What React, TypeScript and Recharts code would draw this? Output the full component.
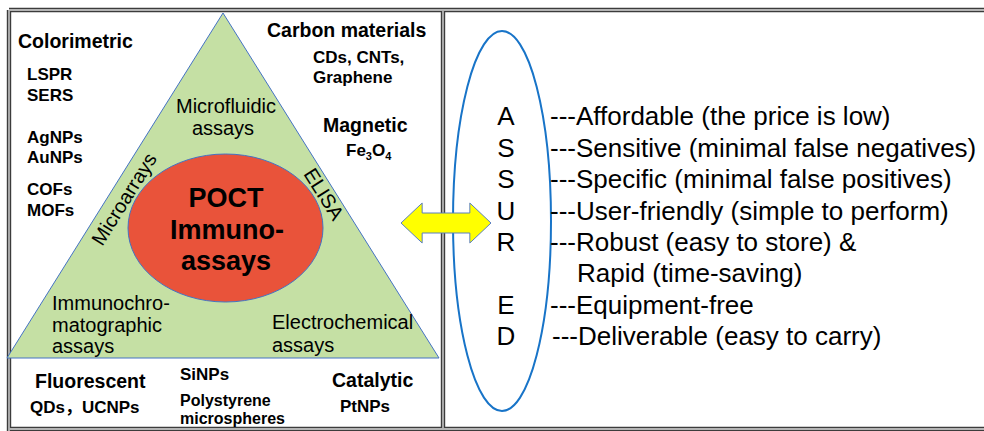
import React from 'react';
import { ComposedChart, XAxis, YAxis, Scatter, ReferenceArea, ReferenceLine } from 'recharts';

const W = 984;
const H = 431;
const FONT = "Arial, 'Liberation Sans', 'Noto Sans CJK SC', sans-serif";

// ---- diagram geometry, in the chart's own data coordinates ----
const frameBands = [
  { x1: 9, y1: 10, x2: 984, y2: 10 },
  { x1: 9, y1: 10, x2: 9, y2: 431 },
  { x1: 9, y1: 429, x2: 984, y2: 429 },
  { x1: 443, y1: 10, x2: 443, y2: 429 },
];
const triangleBox = { x1: 7, x2: 439, y1: 13, y2: 358 };
const coreEllipse = { x1: 128, x2: 323, y1: 154, y2: 302 };
const assuredEllipse = { x1: 453, x2: 551, y1: 31, y2: 411 };
const arrowBox = { x1: 401, x2: 491, y1: 203, y2: 243 };

// ---- labels ----
const detectionHeadings = [
  { label: 'Colorimetric', x: 18, y: 48 },
  { label: 'Carbon materials', x: 267, y: 37 },
  { label: 'Magnetic', x: 323, y: 132 },
  { label: 'Fluorescent', x: 35, y: 388 },
  { label: 'Catalytic', x: 332, y: 387 },
];
const materialLabels = [
  { label: 'LSPR', x: 27, y: 80 },
  { label: 'SERS', x: 27, y: 101 },
  { label: 'AgNPs', x: 27, y: 143 },
  { label: 'AuNPs', x: 27, y: 163 },
  { label: 'COFs', x: 27, y: 195 },
  { label: 'MOFs', x: 27, y: 216 },
  { label: 'CDs, CNTs,', x: 313, y: 63 },
  { label: 'Graphene', x: 313, y: 83 },
  { label: 'QDs，UCNPs', x: 30, y: 413 },
  { label: 'SiNPs', x: 180, y: 380 },
  { label: 'PtNPs', x: 340, y: 412 },
];
const beadLabels = [
  { label: 'Polystyrene', x: 180, y: 405.5 },
  { label: 'microspheres', x: 180, y: 424 },
];
const formulaLabels = [{ label: 'Fe3O4', x: 346, y: 156 }];
const assayLabels = [
  { label: 'Immunochro-', x: 52, y: 310 },
  { label: 'matographic', x: 52, y: 332 },
  { label: 'assays', x: 52, y: 353 },
  { label: 'Electrochemical', x: 272, y: 329 },
  { label: 'assays', x: 272, y: 352 },
];
const assayCentered = [
  { label: 'Microfluidic', x: 226, y: 113 },
  { label: 'assays', x: 223, y: 135 },
];
const sideLabels = [
  { label: 'Microarrays', x: 124, y: 199, side: 'left' },
  { label: 'ELISA', x: 324, y: 194, side: 'right' },
];
const coreLabels = [
  { label: 'POCT', x: 226, y: 207 },
  { label: 'Immuno-', x: 227, y: 239 },
  { label: 'assays', x: 226, y: 270 },
];
const assuredLetters = [
  { label: 'A', x: 506, y: 125 },
  { label: 'S', x: 506, y: 156.5 },
  { label: 'S', x: 506, y: 188 },
  { label: 'U', x: 506, y: 219.5 },
  { label: 'R', x: 506, y: 250.5 },
  { label: 'E', x: 506, y: 313.5 },
  { label: 'D', x: 506, y: 345 },
];
const assuredMeanings = [
  { label: '---Affordable (the price is low)', x: 550, y: 125 },
  { label: '---Sensitive (minimal false negatives)', x: 550, y: 156.5 },
  { label: '---Specific (minimal false positives)', x: 550, y: 188 },
  { label: '---User-friendly (simple to perform)', x: 550, y: 219.5 },
  { label: '---Robust (easy to store) &', x: 550, y: 250.5 },
  { label: 'Rapid (time-saving)', x: 577, y: 282 },
  { label: '---Equipment-free', x: 550, y: 313.5 },
  { label: '---Deliverable (easy to carry)', x: 552, y: 345 },
];

const deg = (r: number) => (r * 180) / Math.PI;
const apexX = (triangleBox.x1 + triangleBox.x2) / 2;
const sideAngle = {
  left: deg(Math.atan2(triangleBox.y1 - triangleBox.y2, apexX - triangleBox.x1)),
  right: deg(Math.atan2(triangleBox.y2 - triangleBox.y1, triangleBox.x2 - apexX)),
};

const textShape = (style: any) => (props: any) => {
  const { cx, cy, payload } = props;
  return (
    <text x={cx} y={cy} fontFamily={FONT} fill="#000" {...style}>
      {payload.label}
    </text>
  );
};

const rotatedShape = (style: any) => (props: any) => {
  const { cx, cy, payload } = props;
  const a = (sideAngle as any)[payload.side];
  return (
    <text
      x={cx}
      y={cy}
      fontFamily={FONT}
      fill="#000"
      textAnchor="middle"
      dominantBaseline="central"
      transform={`rotate(${a} ${cx} ${cy})`}
      {...style}
    >
      {payload.label}
    </text>
  );
};

const formulaShape = (props: any) => {
  const { cx, cy, payload } = props;
  const parts = (payload.label as string).match(/\d+|\D+/g) || [];
  let prevSub = false;
  return (
    <text x={cx} y={cy} fontFamily={FONT} fontWeight="bold" fontSize={17} fill="#000">
      {parts.map((p, i) => {
        const isSub = /^\d+$/.test(p);
        const dy = isSub ? 4 : prevSub ? -4 : 0;
        prevSub = isSub;
        return (
          <tspan key={i} dy={dy} fontSize={isSub ? 11 : 17}>
            {p}
          </tspan>
        );
      })}
    </text>
  );
};

const triangleShape = (p: any) => {
  const { x, y, width, height } = p;
  return (
    <polygon
      points={`${x},${y + height} ${x + width / 2},${y} ${x + width},${y + height}`}
      fill="#c5e0a4"
      stroke="#4472c4"
      strokeWidth={1}
    />
  );
};

const ellipseShape = (fill: string, stroke: string, sw: number) => (p: any) => {
  const { x, y, width, height } = p;
  return (
    <ellipse
      cx={x + width / 2}
      cy={y + height / 2}
      rx={width / 2}
      ry={height / 2}
      fill={fill}
      stroke={stroke}
      strokeWidth={sw}
    />
  );
};

const arrowShape = (p: any) => {
  const { x, y, width: w, height: h } = p;
  const hl = w * 0.235;
  const cy = y + h / 2;
  const s1 = y + h * 0.25;
  const s2 = y + h * 0.75;
  const pts = [
    [x, cy],
    [x + hl, y],
    [x + hl, s1],
    [x + w - hl, s1],
    [x + w - hl, y],
    [x + w, cy],
    [x + w - hl, y + h],
    [x + w - hl, s2],
    [x + hl, s2],
    [x + hl, y + h],
  ]
    .map((q) => q.join(','))
    .join(' ');
  return <polygon points={pts} fill="#ffff00" stroke="#5a7fc2" strokeWidth={1} />;
};

export default function App() {
  return (
    <div style={{ width: W, height: H, background: '#fff' }}>
      <style>{`body{margin:0;background:#fff}`}</style>
      <ComposedChart width={W} height={H} margin={{ top: 0, right: 0, bottom: 0, left: 0 }}>
        <XAxis type="number" dataKey="x" domain={[0, W]} hide allowDataOverflow />
        <YAxis type="number" dataKey="y" domain={[0, H]} reversed hide allowDataOverflow />

        {frameBands.map((b, i) => (
          <ReferenceLine
            key={`fo${i}`}
            segment={[{ x: b.x1, y: b.y1 }, { x: b.x2, y: b.y2 }]}
            stroke="#3c3c3c"
            strokeWidth={4.4}
            ifOverflow="visible"
            zIndex={10}
          />
        ))}
        {frameBands.map((b, i) => (
          <ReferenceLine
            key={`fi${i}`}
            segment={[{ x: b.x1, y: b.y1 }, { x: b.x2, y: b.y2 }]}
            stroke="#b4b4b4"
            strokeWidth={1.8}
            ifOverflow="visible"
            zIndex={11}
          />
        ))}

        <ReferenceArea
          x1={triangleBox.x1}
          x2={triangleBox.x2}
          y1={triangleBox.y1}
          y2={triangleBox.y2}
          shape={triangleShape}
          ifOverflow="visible"
          zIndex={20}
        />
        <ReferenceArea
          x1={coreEllipse.x1}
          x2={coreEllipse.x2}
          y1={coreEllipse.y1}
          y2={coreEllipse.y2}
          shape={ellipseShape('#e9533a', '#4472c4', 1)}
          ifOverflow="visible"
          zIndex={30}
        />
        <ReferenceArea
          x1={assuredEllipse.x1}
          x2={assuredEllipse.x2}
          y1={assuredEllipse.y1}
          y2={assuredEllipse.y2}
          shape={ellipseShape('none', '#1874c8', 2)}
          ifOverflow="visible"
          zIndex={31}
        />

        <Scatter data={detectionHeadings} isAnimationActive={false} zIndex={600}
          shape={textShape({ fontWeight: 'bold', fontSize: 19.5 })} />
        <Scatter data={materialLabels} isAnimationActive={false} zIndex={600}
          shape={textShape({ fontWeight: 'bold', fontSize: 17 })} />
        <Scatter data={beadLabels} isAnimationActive={false} zIndex={600}
          shape={textShape({ fontWeight: 'bold', fontSize: 16 })} />
        <Scatter data={formulaLabels} isAnimationActive={false} zIndex={600} shape={formulaShape} />
        <Scatter data={assayLabels} isAnimationActive={false} zIndex={600}
          shape={textShape({ fontSize: 20 })} />
        <Scatter data={assayCentered} isAnimationActive={false} zIndex={600}
          shape={textShape({ fontSize: 20, textAnchor: 'middle' })} />
        <Scatter data={sideLabels} isAnimationActive={false} zIndex={600}
          shape={rotatedShape({ fontSize: 20 })} />
        <Scatter data={coreLabels} isAnimationActive={false} zIndex={600}
          shape={textShape({ fontWeight: 'bold', fontSize: 27, textAnchor: 'middle' })} />
        <Scatter data={assuredLetters} isAnimationActive={false} zIndex={600}
          shape={textShape({ fontSize: 26, textAnchor: 'middle' })} />
        <Scatter data={assuredMeanings} isAnimationActive={false} zIndex={600}
          shape={textShape({ fontSize: 26 })} />

        <ReferenceArea
          x1={arrowBox.x1}
          x2={arrowBox.x2}
          y1={arrowBox.y1}
          y2={arrowBox.y2}
          shape={arrowShape}
          ifOverflow="visible"
          zIndex={700}
        />
      </ComposedChart>
    </div>
  );
}
